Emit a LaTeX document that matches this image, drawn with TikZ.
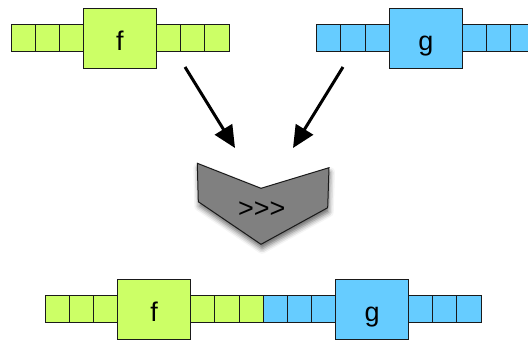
\documentclass[tikz,border=0pt]{standalone}
\usepackage{fontspec}
\setmainfont{Liberation Sans}
\usetikzlibrary{arrows.meta,shadows.blur}
\definecolor{lime}{HTML}{CCFF66}
\definecolor{sky}{HTML}{66CCFF}
\definecolor{chev}{HTML}{808080}
\definecolor{edge}{HTML}{1A1A1A}
\pgfdeclarelayer{shadowlayer}
\pgfsetlayers{shadowlayer,main}
\tikzset{
  cell/.style={draw=edge, line width=1pt, minimum width=24.2pt, minimum height=27pt, inner sep=0pt, outer sep=0pt},
  bigbox/.style={draw=edge, line width=1pt, minimum width=73pt, minimum height=60pt, inner sep=0pt, outer sep=0pt,
    font=\fontsize{27}{27}\selectfont, text height=24pt, text depth=0pt},
  sh/.style={blur shadow={shadow xshift=1pt, shadow yshift=-4.5pt, shadow blur radius=5pt, shadow opacity=60}},
  arr/.style={line width=3pt, draw=black, -{Triangle[length=22pt,width=20pt]}},
  optext/.style={font=\fontsize{27}{27}\selectfont, inner sep=0pt},
}
\begin{document}
\begin{tikzpicture}[x=1pt,y=-1pt]
\useasboundingbox (0,0) rectangle (528,341);
% top f row
\foreach \i/\x in {1/23.1,2/47.3,3/71.5,4/168.6,5/192.8,6/217.0}
  \node[cell, fill=lime] (tf\i) at (\x,37.5) {};
\node[bigbox, fill=lime] (tfbox) at (120,38) {f};
% top g row
\foreach \i/\x in {1/328.8,2/353.0,3/377.2,4/474.4,5/498.6,6/522.8}
  \node[cell, fill=sky] (tg\i) at (\x,37.5) {};
\node[bigbox, fill=sky] (tgbox) at (425.9,38) {g};
% bottom row
\foreach \i/\x in {1/57.1,2/81.3,3/105.5,4/202.8,5/227.0,6/251.2}
  \node[cell, fill=lime] (bf\i) at (\x,308.7) {};
\node[bigbox, fill=lime] (bfbox) at (154.2,309.3) {f};
\foreach \i/\x in {1/275.4,2/299.6,3/323.8,4/420.5,5/444.7,6/468.9}
  \node[cell, fill=sky] (bg\i) at (\x,308.7) {};
\node[bigbox, fill=sky] (bgbox) at (372.1,309.3) {g};
% shadows
\begin{pgfonlayer}{shadowlayer}
  \path[sh] (tf1.north west) rectangle (tf6.south east);
  \path[sh] (tfbox.north west) rectangle (tfbox.south east);
  \path[sh] (tg1.north west) rectangle (tg6.south east);
  \path[sh] (tgbox.north west) rectangle (tgbox.south east);
  \path[sh] (bf1.north west) rectangle (bg6.south east);
  \path[sh] (bfbox.north west) rectangle (bfbox.south east);
  \path[sh] (bgbox.north west) rectangle (bgbox.south east);
\end{pgfonlayer}
% chevron
\draw[sh, draw=edge, line width=1pt, fill=chev]
  (197.3,163.3) -- (261,188.3) -- (329,167.7) -- (327.7,207.7) -- (261,244.3) -- (198.3,201.7) -- cycle;
\node[optext] (comp) at (261.7,210) {{>}{>}{>}};
% arrows
\coordinate (fa) at (185,67);
\coordinate (fb) at (235,148);
\coordinate (ga) at (343,67);
\coordinate (gb) at (293,148);
\draw[arr] (fa) -- (fb);
\draw[arr] (ga) -- (gb);
\end{tikzpicture}
\end{document}
